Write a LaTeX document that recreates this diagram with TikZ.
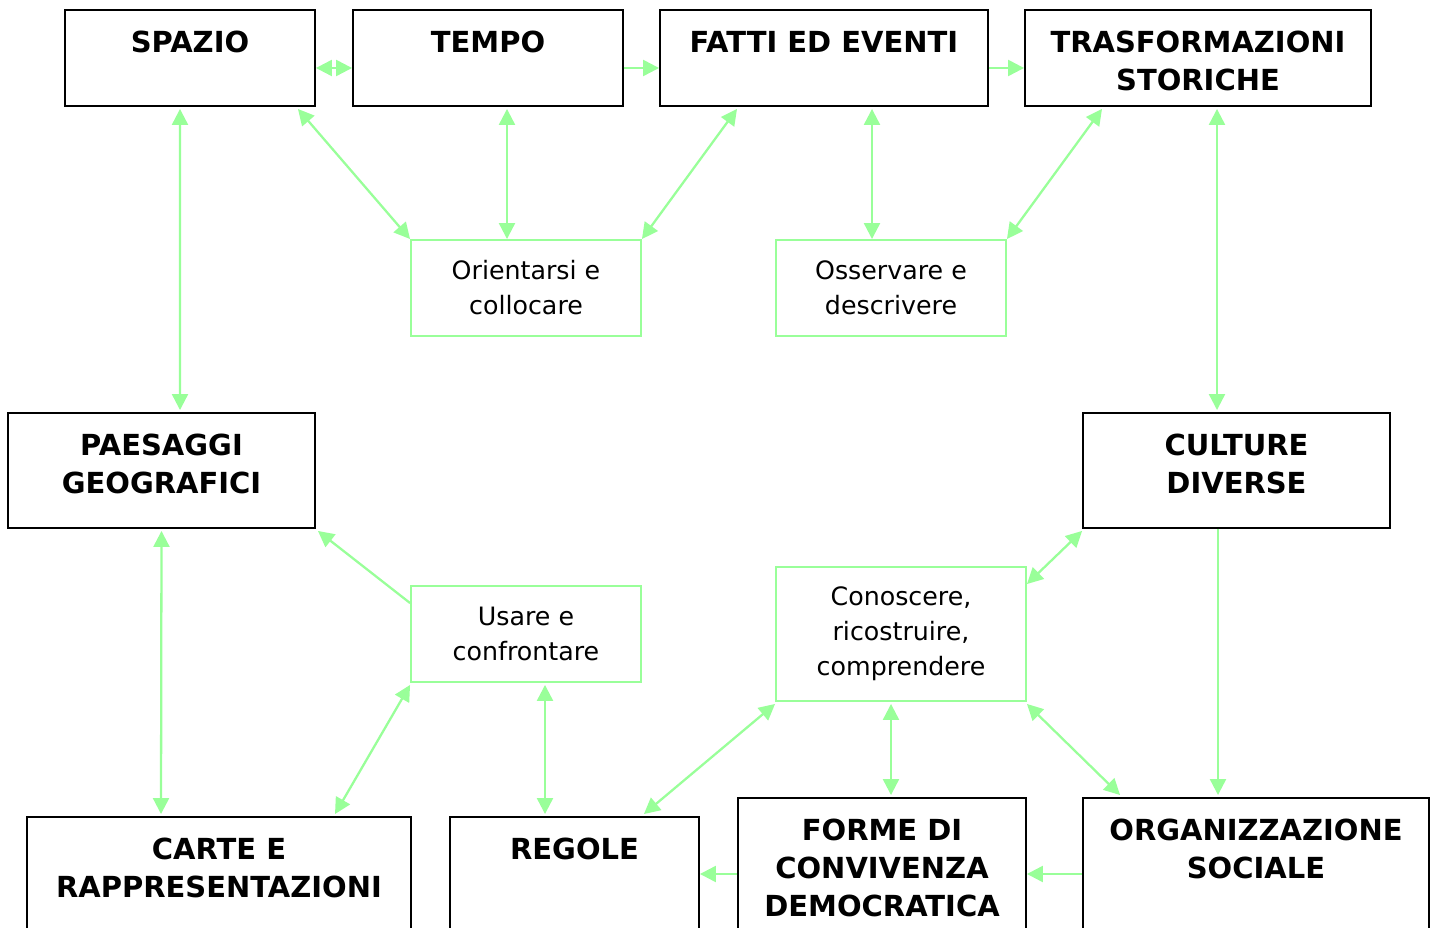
\documentclass[tikz,border=0pt]{standalone}
\usepackage{fontspec}
\setmainfont{DejaVu Sans}
\usetikzlibrary{calc,arrows.meta}
\definecolor{lightgreen}{RGB}{153,255,153}

\begin{document}
\begin{tikzpicture}[x=0.02cm,y=-0.02cm,
    box/.style 2 args={draw=black,line width=1.1pt,minimum width=#1,minimum height=#2,inner sep=0pt},
    gbox/.style 2 args={draw=lightgreen,line width=1.1pt,minimum width=#1,minimum height=#2,inner sep=0pt,
      align=center,font=\fontsize{14.4}{19.9}\selectfont},
    heading/.style={anchor=north,yshift=-0.43cm,inner sep=0pt,align=center,
      font=\bfseries\fontsize{16.5}{21.6}\selectfont},
    oneway/.style={lightgreen,line width=1.3pt,-{Triangle[length=0.32cm,width=0.32cm]}},
    twoway/.style={lightgreen,line width=1.3pt,{Triangle[length=0.32cm,width=0.32cm]}-{Triangle[length=0.32cm,width=0.32cm]}}]
  \useasboundingbox (0,0) rectangle (1437,928);

  \node[box={5cm}{1.92cm},label={[heading]north:SPAZIO}] (spazio) at (190,58) {};
  \node[box={5.4cm}{1.92cm},label={[heading]north:TEMPO}] (tempo) at (488,58) {};
  \node[box={6.56cm}{1.92cm},label={[heading]north:FATTI ED EVENTI}] (fatti) at (824,58) {};
  \node[box={6.92cm}{1.92cm},label={[heading]north:{TRASFORMAZIONI\\STORICHE}}] (trasf) at (1198,58) {};
  \node[box={6.14cm}{2.3cm},label={[heading]north:{PAESAGGI\\GEOGRAFICI}}] (paesaggi) at (161.5,470.5) {};
  \node[box={6.14cm}{2.3cm},label={[heading]north:{CULTURE\\DIVERSE}}] (culture) at (1236.5,470.5) {};
  \node[box={7.68cm}{2.66cm},label={[heading]north:{CARTE E\\RAPPRESENTAZIONI}}] (carte) at (219,883.5) {};
  \node[box={4.98cm}{2.66cm},label={[heading]north:REGOLE}] (regole) at (574.5,883.5) {};
  \node[box={5.76cm}{3.04cm},label={[heading]north:{FORME DI\\CONVIVENZA\\DEMOCRATICA}}] (forme) at (882,874) {};
  \node[box={6.92cm}{3.04cm},label={[heading]north:{ORGANIZZAZIONE\\SOCIALE}}] (organizz) at (1256,874) {};

  \node[gbox={4.6cm}{1.92cm}] (orient) at (526,288) {Orientarsi e\\collocare};
  \node[gbox={4.6cm}{1.92cm}] (osserv) at (891,288) {Osservare e\\descrivere};
  \node[gbox={4.6cm}{1.92cm}] (usare) at (526,634) {Usare e\\confrontare};
  \node[gbox={5cm}{2.68cm}] (conosc) at (901,634) {Conoscere,\\ricostruire,\\comprendere};

  \draw[twoway] ($(spazio.east)+(0,10)$) -- ($(tempo.west)+(0,10)$);
  \draw[oneway] ($(tempo.east)+(0,10)$) -- ($(fatti.west)+(0,10)$);
  \draw[oneway] ($(fatti.east)+(0,10)$) -- ($(trasf.west)+(0,10)$);
  \draw[twoway] ($(spazio.south)+(-10,2)$) -- ($(paesaggi.north)+(18.5,-2)$);
  \draw[twoway] ($(spazio.south east)+(-18,2)$) -- (orient.north west);
  \draw[twoway] ($(tempo.south)+(19,2)$) -- ($(orient.north)+(-19,0)$);
  \draw[twoway] ($(fatti.south)+(-87,2)$) -- (orient.north east);
  \draw[twoway] ($(fatti.south)+(48,2)$) -- ($(osserv.north)+(-19,0)$);
  \draw[twoway] ($(trasf.south)+(-96,2)$) -- (osserv.north east);
  \draw[twoway] ($(trasf.south)+(19,2)$) -- ($(culture.north)+(-19.5,-2)$);
  \draw[oneway] ($(usare.north west)+(0,18)$) -- ($(paesaggi.south east)+(2,2)$);
  \draw[twoway] ($(paesaggi.south)+(0,2)$) -- ($(carte.north)+(-58,-2)$);
  \draw[twoway] ($(usare.south west)+(0,2)$) -- ($(carte.north)+(116,-2)$);
  \draw[twoway] ($(usare.south)+(19,2)$) -- ($(regole.north)+(-29.5,-2)$);
  \draw[twoway] ($(conosc.south west)+(0,2)$) -- ($(regole.north east)+(-56,-2)$);
  \draw[twoway] ($(conosc.south)+(-10,2)$) -- ($(forme.north)+(9,-2)$);
  \draw[twoway] ($(conosc.south east)+(0,2)$) -- ($(organizz.north west)+(38,-2)$);
  \draw[twoway] ($(culture.south west)+(0,2)$) -- ($(conosc.north east)+(0,18)$);
  \draw[oneway] ($(culture.south)+(-18.5,0)$) -- ($(organizz.north)+(-38,-2)$);
  \draw[oneway] (forme.west) -- (regole.east |- forme.west);
  \draw[oneway] (organizz.west) -- (forme.east);
\end{tikzpicture}
\end{document}
